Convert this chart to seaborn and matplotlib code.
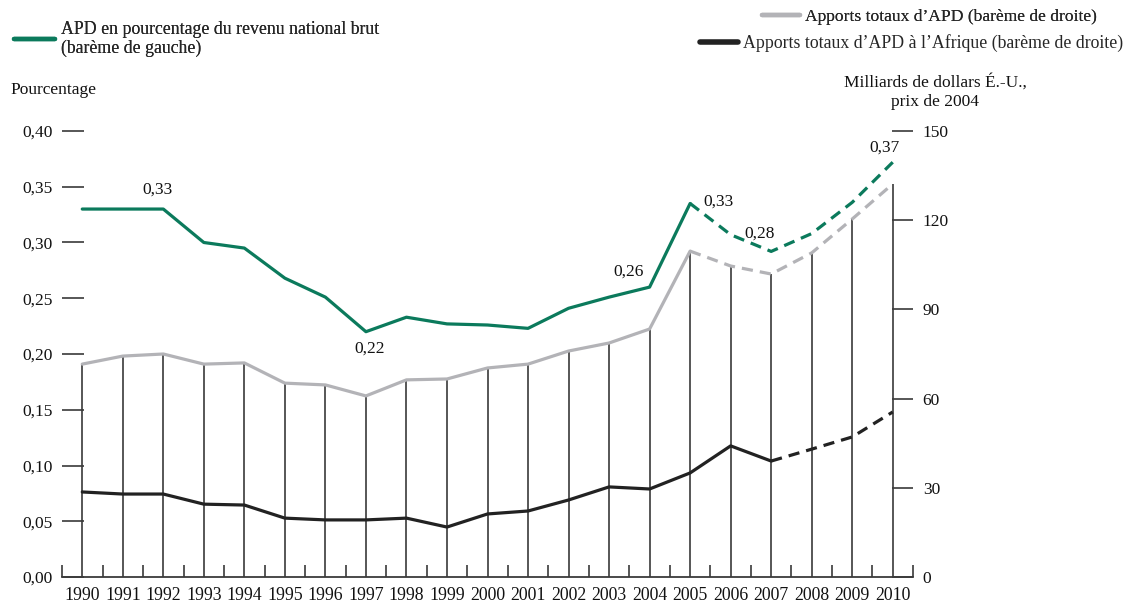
import matplotlib
matplotlib.use('Agg')
import matplotlib.pyplot as plt
import seaborn as sns
import pandas as pd
import numpy as np
from matplotlib.lines import Line2D

# ---------------- data ----------------
years = list(range(1990, 2011))
oda_pct_gni = [0.330, 0.330, 0.330, 0.300, 0.295, 0.268, 0.251, 0.220, 0.233, 0.227,
               0.226, 0.223, 0.241, 0.251, 0.260, 0.335, 0.307, 0.292, 0.308, 0.336, 0.372]
oda_total = [71.6, 74.3, 75.0, 71.6, 72.0, 65.2, 64.6, 60.9, 66.3, 66.6,
             70.3, 71.6, 76.0, 78.7, 83.4, 109.6, 104.6, 101.9, 109.0, 120.4, 132.2]
oda_africa = [28.6, 27.9, 27.9, 24.5, 24.2, 19.8, 19.2, 19.2, 19.8, 16.8,
              21.2, 22.2, 25.9, 30.3, 29.6, 35.0, 44.1, 39.0, 43.0, 47.1, 55.5]
left_ticks = [0.00, 0.05, 0.10, 0.15, 0.20, 0.25, 0.30, 0.35, 0.40]
right_ticks = [0, 30, 60, 90, 120, 150]
annotations = [(1991.85, 0.347, "0,33"), (1997.08, 0.2045, "0,22"), (2003.49, 0.2735, "0,26"),
               (2005.71, 0.337, "0,33"), (2006.72, 0.3076, "0,28"), (2009.80, 0.385, "0,37")]
proj_start_total = 2005   # dashed from here (green & grey)
proj_start_africa = 2007  # dashed from here (black)

df = pd.DataFrame({"year": years, "pct": oda_pct_gni, "total": oda_total, "africa": oda_africa})

GREEN = "#0b7a5c"
GREY = "#b3b3b7"
BLACK = "#222222"
AXC = "#3a3a3a"

sns.set_style("white")
plt.rcParams['font.family'] = ['Liberation Serif', 'DejaVu Serif']

fig = plt.figure(figsize=(11.28, 6.05), dpi=100)
ax = fig.add_axes([62/1128, 28/605, (913-62)/1128, 446/605])
ax2 = ax.twinx()

# vertical year lines up to total ODA
ax2.vlines(df["year"], 0, df["total"], colors=AXC, lw=1.2, zorder=1)

# green line (left scale)
sol = df[df.year <= proj_start_total]
das = df[df.year >= proj_start_total]
sns.lineplot(data=sol, x="year", y="pct", ax=ax, color=GREEN, lw=2.3, sort=False, legend=False)
sns.lineplot(data=das, x="year", y="pct", ax=ax, color=GREEN, lw=2.3, sort=False, legend=False,
             linestyle=(0, (3.5, 2.2)))

# grey total line (right scale)
sns.lineplot(data=sol, x="year", y="total", ax=ax2, color=GREY, lw=2.3, sort=False, legend=False, zorder=3)
sns.lineplot(data=das, x="year", y="total", ax=ax2, color=GREY, lw=2.3, sort=False, legend=False,
             linestyle=(0, (3.5, 2.2)), zorder=3)

# black Africa line (right scale)
solA = df[df.year <= proj_start_africa]
dasA = df[df.year >= proj_start_africa]
sns.lineplot(data=solA, x="year", y="africa", ax=ax2, color=BLACK, lw=2.3, sort=False, legend=False, zorder=3)
sns.lineplot(data=dasA, x="year", y="africa", ax=ax2, color=BLACK, lw=2.3, sort=False, legend=False,
             linestyle=(0, (3.5, 2.2)), zorder=3)

ax.set_xlim(1989.5, 2010.5)
ax.set_ylim(0, 0.40)
ax2.set_ylim(0, 150)
ax.set_xlabel("")
ax.set_ylabel("")
ax2.set_ylabel("")

ax.set_xticks(years)
ax.set_xticklabels([str(y) for y in years])
ax.set_xticks(np.arange(1989.5, 2011, 1.0), minor=True)
ax.set_yticks(left_ticks)
ax.set_yticklabels([f"{v:.2f}".replace(".", ",") for v in left_ticks])
ax2.set_yticks(right_ticks)
ax2.set_yticklabels([str(v) for v in right_ticks])

ax.tick_params(axis='x', which='major', length=0, pad=7, labelsize=12.8, labelcolor="#111")
ax.tick_params(axis='x', which='minor', direction='in', length=8.5, width=1.2, color=AXC, bottom=True)
ax.tick_params(axis='y', direction='in', length=16, width=1.2, color=AXC, pad=6.5,
               labelsize=12.5, labelcolor="#111", left=True)
ax2.tick_params(axis='y', direction='in', length=15, width=1.2, color=AXC, pad=7,
                labelsize=12.5, labelcolor="#111", right=True)

for a in (ax, ax2):
    for s in ("top", "left", "right"):
        a.spines[s].set_visible(False)
ax2.spines["bottom"].set_visible(False)
ax.spines["bottom"].set_color(AXC)
ax.spines["bottom"].set_linewidth(1.3)
ax.grid(False)
ax2.grid(False)

for x, y, t in annotations:
    ax.text(x, y, t, ha="center", va="center", fontsize=12.5, color="#111")

# axis titles
fig.text(10/1128, 1 - 90/605, "Pourcentage", ha="left", va="center", fontsize=12.5, color="#111")
fig.text(935/1128, 1 - 92/605, "Milliards de dollars É.-U.,\nprix de 2004", ha="center", va="center",
         fontsize=12.5, color="#111", linespacing=1.25)

# legends
def em(fs):
    return fs * 100 / 72

fs1, fs2, fs3 = 12.75, 12.6, 12.8
leg1 = fig.legend(handles=[Line2D([], [], color=GREEN, lw=3.2)],
                  labels=["APD en pourcentage du revenu national brut\n(barème de gauche)"],
                  loc="center left", bbox_to_anchor=(14/1128, 1 - 39/605), frameon=False,
                  fontsize=fs1, handlelength=41/em(fs1), handletextpad=6/em(fs1),
                  borderpad=0, borderaxespad=0)
fig.add_artist(leg1)
leg2 = fig.legend(handles=[Line2D([], [], color=GREY, lw=3.2)],
                  labels=["Apports totaux d\u2019APD (barème de droite)"],
                  loc="center left", bbox_to_anchor=(762/1128, 1 - 17/605), frameon=False,
                  fontsize=fs2, handlelength=38/em(fs2), handletextpad=5/em(fs2),
                  borderpad=0, borderaxespad=0)
fig.add_artist(leg2)
leg3 = fig.legend(handles=[Line2D([], [], color=BLACK, lw=4)],
                  labels=["Apports totaux d\u2019APD à l\u2019Afrique (barème de droite)"],
                  loc="center left", bbox_to_anchor=(700/1128, 1 - 43/605), frameon=False,
                  fontsize=fs3, handlelength=38/em(fs3), handletextpad=5/em(fs3),
                  borderpad=0, borderaxespad=0)

fig.savefig("out.png", dpi=100)
